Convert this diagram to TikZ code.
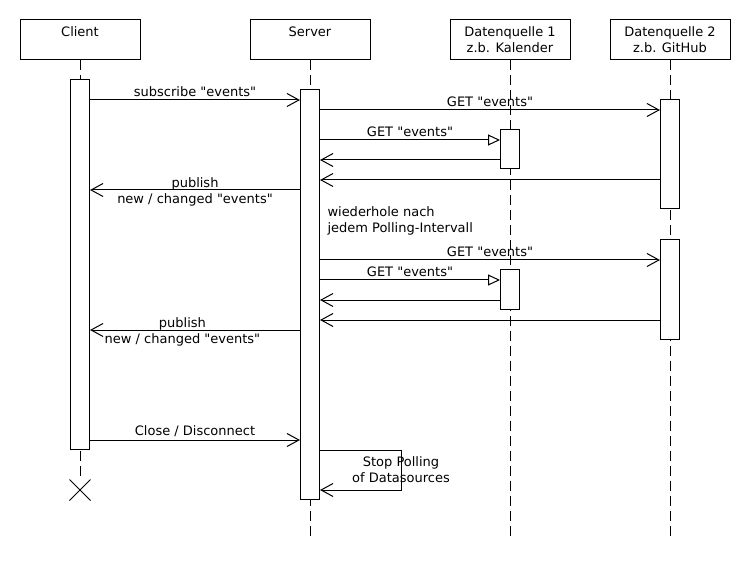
\documentclass[tikz,border=0pt]{standalone}
\usepackage{fontspec}
\newfontfamily\diagfont{DejaVu Sans}
\usetikzlibrary{arrows.meta,shapes.misc}

\begin{document}
\begin{tikzpicture}[x=1pt,y=-1pt,
    font=\diagfont\fontsize{13}{16}\selectfont,
    line width=1pt,
    actor/.style={draw, minimum width=120pt, minimum height=40pt, align=center, inner sep=0pt},
    lifeline/.style={dash pattern=on 10pt off 5pt},
    bar/.style={draw, fill=white, minimum width=19pt, inner sep=0pt},
    call/.style={-{Straight Barb[length=12pt,width=13pt]}},
    asynccall/.style={-{Triangle[open,length=12pt,width=11pt]}},
    lbl/.style={above, inner sep=3pt}]
      \useasboundingbox (0,0) rectangle (750,580);

      \node[actor] (client) at (80,40) {Client\\\mbox{}};
      \node[actor] (server) at (310,40) {Server\\\mbox{}};
      \node[actor] (dq1) at (510,40) {Datenquelle 1\\z.b. Kalender};
      \node[actor] (dq2) at (670,40) {Datenquelle 2\\z.b. GitHub};

      \node[draw, cross out, minimum size=20pt, inner sep=0pt] (kill) at (80,490) {};
      \coordinate (serverend) at (310,540);
      \coordinate (dq1end) at (510,538);
      \coordinate (dq2end) at (670,540);

      \draw[lifeline] (client) -- (kill);
      \draw[lifeline] (server) -- (serverend);
      \draw[lifeline] (dq1) -- (dq1end);
      \draw[lifeline] (dq2) -- (dq2end);

      \node[bar, minimum height=369pt] (actC) at (80,264.5) {};
      \node[bar, minimum height=409pt] (actS) at (310,294.5) {};
      \node[bar, minimum height=39pt] (dq1a) at (510,149.5) {};
      \node[bar, minimum height=39pt] (dq1b) at (510,289.5) {};
      \node[bar, minimum height=109pt] (dq2a) at (670,154.5) {};
      \node[bar, minimum height=99pt] (dq2b) at (670,289.5) {};

      % first poll
      \draw[call] (actC.east |- 0,100) -- node[lbl] {subscribe "events"} (actS.west |- 0,100);
      \draw[call] (actS.east |- 0,110) -- node[lbl] {GET "events"} (dq2a.west |- 0,110);
      \draw[asynccall] (actS.east |- 0,140) -- node[lbl] {GET "events"} (dq1a.west |- 0,140);
      \draw[call] (dq1a.west |- 0,160) -- (actS.east |- 0,160);
      \draw[call] (dq2a.west |- 0,180) -- (actS.east |- 0,180);
      \draw[call] (actS.west |- 0,190) -- node[align=center, yshift=-2pt] {publish\\new / changed "events"} (actC.east |- 0,190);

      \node[anchor=north west, align=left, inner sep=0pt] (loop) at (327,206) {wiederhole nach\\jedem Polling-Intervall};

      % next poll
      \draw[call] (actS.east |- 0,260) -- node[lbl] {GET "events"} (dq2b.west |- 0,260);
      \draw[asynccall] (actS.east |- 0,280) -- node[lbl] {GET "events"} (dq1b.west |- 0,280);
      \draw[call] (dq1b.west |- 0,300) -- (actS.east |- 0,300);
      \draw[call] (dq2b.west |- 0,320) -- (actS.east |- 0,320);
      \draw[call] (actS.west |- 0,330) -- node[pos=0.56, align=center, yshift=-2pt] {publish\\new / changed "events"} (actC.east |- 0,330);

      \draw[call] (actC.east |- 0,440) -- node[lbl] {Close / Disconnect} (actS.west |- 0,440);
      \draw[call] (actS.east |- 0,450) -- ++(81,0) -- node[align=center] {Stop Polling\\of Datasources} ++(0,40) -- (actS.east |- 0,490);
    \end{tikzpicture}
\end{document}
